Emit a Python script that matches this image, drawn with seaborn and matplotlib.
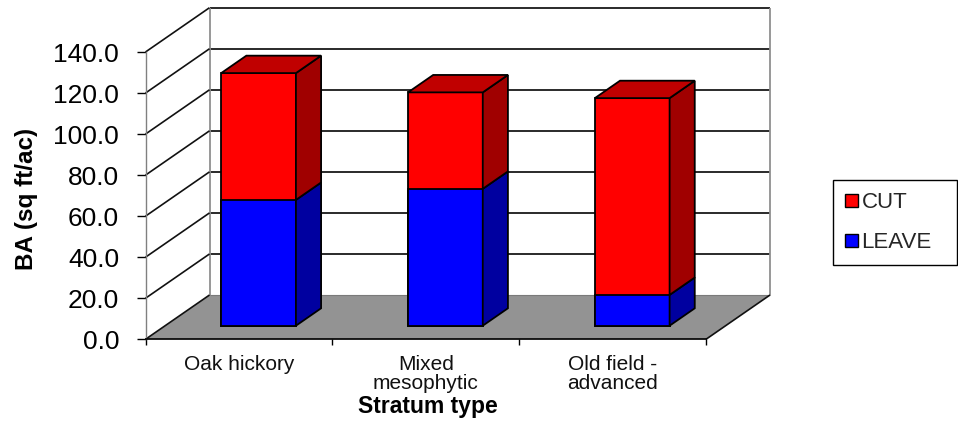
import matplotlib
matplotlib.use("Agg")
import matplotlib.pyplot as plt
import matplotlib.patches as mpatches
from matplotlib.patches import Polygon
from matplotlib.lines import Line2D
from matplotlib.transforms import IdentityTransform, ScaledTranslation
import pandas as pd
import seaborn as sns

# ---- data -------------------------------------------------------------
strata = ["Oak hickory", "Mixed\nmesophytic", "Old field -\nadvanced"]
leave = [61.3, 66.7, 15.0]
cut = [61.8, 47.0, 95.9]
series_names = ["CUT", "LEAVE"]
y_ticks = [0, 20, 40, 60, 80, 100, 120, 140]

# ---- figure geometry --------------------------------------------------
W, H, DPI = 958, 424, 100
FX0, FX1, FY0, FY1 = 145.5, 706.0, 339.3, 52.0   # front plane of the box (px)
DX, DY = 64.0, 44.3                               # depth offset to the back wall (px)
D_FRONT, D_BACK = 0.307, 0.70                     # bar depth span (fraction of box depth)

RED, RED_TOP, RED_SIDE = "#FF0000", "#C00000", "#A00000"
BLUE, BLUE_SIDE = "#0000FF", "#0000A0"
FLOOR = "#939393"

sns.set_theme(style="white")
plt.rcParams["font.family"] = ["Liberation Sans", "DejaVu Sans"]

fig = plt.figure(figsize=(W / DPI, H / DPI), dpi=DPI)
fig.patch.set_facecolor("white")
ax = fig.add_axes([FX0 / W, 1 - FY0 / H, (FX1 - FX0) / W, (FY0 - FY1) / H])
ax.set_facecolor("none")

df = pd.DataFrame({"stratum": strata, "CUT": cut, "LEAVE": leave})
df["total"] = df["CUT"] + df["LEAVE"]

# stacked bars: full height in red, LEAVE part overlaid in blue
sns.barplot(data=df, x="stratum", y="total", color=RED, saturation=1,
            width=0.4, edgecolor="black", linewidth=1.3, ax=ax)
red_bars = list(ax.patches)
sns.barplot(data=df, x="stratum", y="LEAVE", color=BLUE, saturation=1,
            width=0.4, edgecolor="black", linewidth=1.3, ax=ax)
blue_bars = [p for p in ax.patches if p not in red_bars]

ax.set_xlim(-0.5, len(strata) - 0.5)
ax.set_ylim(y_ticks[0], y_ticks[-1])
ax.set_xlabel("")
ax.set_ylabel("")


def proj(x, y, d):
    """Data point on the plane at depth d -> display pixels (oblique view)."""
    px, py = ax.transData.transform((x, y))
    return (px + DX * d, py + DY * d)


def face(points, fc, ec="none", lw=0.0, z=1.0):
    poly = Polygon(points, closed=True, facecolor=fc, edgecolor=ec, linewidth=lw,
                   transform=IdentityTransform(), clip_on=False, zorder=z,
                   joinstyle="miter")
    ax.add_artist(poly)


def seg(p0, p1, color, lw, z):
    ln = Line2D([p0[0], p1[0]], [p0[1], p1[1]], color=color, linewidth=lw,
                transform=IdentityTransform(), clip_on=False, zorder=z,
                solid_capstyle="butt")
    ax.add_artist(ln)


x_lo, x_hi = ax.get_xlim()
y_lo, y_hi = ax.get_ylim()

# back wall and floor
face([proj(x_lo, y_lo, 1), proj(x_hi, y_lo, 1), proj(x_hi, y_hi, 1), proj(x_lo, y_hi, 1)],
     "white", z=0.2)
face([proj(x_lo, y_lo, 0), proj(x_hi, y_lo, 0), proj(x_hi, y_lo, 1), proj(x_lo, y_lo, 1)],
     FLOOR, z=0.3)

# gridlines on the back wall and the matching lines on the left wall
for v in y_ticks:
    if v > y_lo:
        seg(proj(x_lo, v, 1), proj(x_hi, v, 1), "#2a2a2a", 1.4, 0.5)
    seg(proj(x_lo, v, 0), proj(x_lo, v, 1), "#111111", 1.2, 0.6)
seg(proj(x_lo, y_lo, 1), proj(x_lo, y_hi, 1), "#909090", 1.3, 0.55)
seg(proj(x_hi, y_lo, 1), proj(x_hi, y_hi, 1), "#909090", 1.3, 0.55)
seg(proj(x_lo, y_lo, 1), proj(x_hi, y_lo, 1), "#7a7a7a", 0.8, 0.55)
seg(proj(x_hi, y_lo, 0), proj(x_hi, y_lo, 1), "#111111", 1.2, 0.6)

# front faces sit on the bar plane; sides and tops recede towards the wall
shift = ax.transData + ScaledTranslation(DX * D_FRONT / DPI, DY * D_FRONT / DPI,
                                         fig.dpi_scale_trans)
for p in red_bars + blue_bars:
    p.set_transform(shift)
    p.set_clip_on(False)
    p.set_zorder(2)

for rb, bb in zip(red_bars, blue_bars):
    x0 = rb.get_x()
    x1 = x0 + rb.get_width()
    top = rb.get_height()
    mid = bb.get_height()
    kw = dict(ec="black", lw=1.3, z=2)
    face([proj(x1, 0, D_FRONT), proj(x1, 0, D_BACK), proj(x1, mid, D_BACK),
          proj(x1, mid, D_FRONT)], BLUE_SIDE, **kw)
    face([proj(x1, mid, D_FRONT), proj(x1, mid, D_BACK), proj(x1, top, D_BACK),
          proj(x1, top, D_FRONT)], RED_SIDE, **kw)
    face([proj(x0, top, D_FRONT), proj(x1, top, D_FRONT), proj(x1, top, D_BACK),
          proj(x0, top, D_BACK)], RED_TOP, **kw)

# axes: front value axis and category axis
for s in ("top", "right"):
    ax.spines[s].set_visible(False)
ax.spines["left"].set_color("#808080")
ax.spines["left"].set_linewidth(1.0)
ax.spines["bottom"].set_color("black")
ax.spines["bottom"].set_linewidth(1.2)
for s in ax.spines.values():
    s.set_zorder(3)

ax.set_yticks(y_ticks, labels=[f"{v:.1f}" for v in y_ticks])
ax.tick_params(axis="y", direction="out", length=6.5, width=1.0, color="black",
               labelsize=19, labelcolor="black", pad=12.5, left=True)
ax.set_xticks(range(len(strata)), labels=strata)
ax.set_xticks([i - 0.5 for i in range(len(strata) + 1)], minor=True)
ax.tick_params(axis="x", which="major", length=0, labelsize=15, pad=11,
               labelcolor="#111111")
ax.tick_params(axis="x", which="minor", direction="out", length=4.5, width=1.0,
               color="black", bottom=True)
for t in ax.get_xticklabels():
    t.set_linespacing(1.05)

fig.text(27 / W, 1 - 198.5 / H, "BA (sq ft/ac)", rotation=90, ha="center",
         va="center", fontsize=17.5, fontweight="bold", color="black")
fig.text(428 / W, 1 - 413 / H, "Stratum type", ha="center", va="baseline",
         fontsize=16.5, fontweight="bold", color="black")

handles = [mpatches.Patch(facecolor=RED, edgecolor="black", linewidth=1.0, label=series_names[0]),
           mpatches.Patch(facecolor=BLUE, edgecolor="black", linewidth=1.0, label=series_names[1])]
leg = fig.legend(handles=handles, loc="upper left",
                 bbox_to_anchor=(832.7 / W, 1 - 261.7 / H, (956.7 - 832.7) / W, 81.7 / H),
                 mode="expand", fontsize=16, frameon=True, fancybox=False,
                 borderpad=0.55, labelspacing=0.85, handlelength=0.6,
                 handleheight=0.5, handletextpad=0.15, borderaxespad=0)
leg.get_frame().set_edgecolor("black")
leg.get_frame().set_linewidth(1.0)
leg.get_frame().set_alpha(1)

fig.savefig("out.png", dpi=DPI, facecolor="white")
